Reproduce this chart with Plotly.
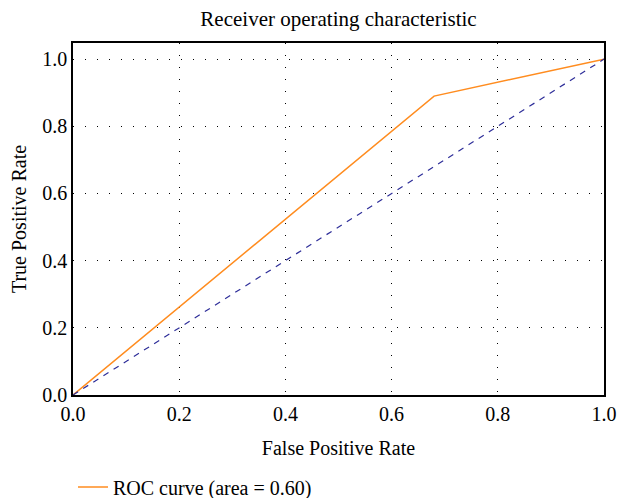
import plotly.graph_objects as go

fpr = [0.0, 0.68, 1.0]
tpr = [0.0, 0.89, 1.0]
diag_x = [0.0, 1.0]
diag_y = [0.0, 1.0]
ticks = [0.0, 0.2, 0.4, 0.6, 0.8, 1.0]
tick_labels = ["0.0", "0.2", "0.4", "0.6", "0.8", "1.0"]

font = "Liberation Serif, Times New Roman, serif"
fs = 20

fig = go.Figure()
fig.add_trace(go.Scatter(x=fpr, y=tpr, mode="lines", name="ROC curve (area = 0.60)",
                         line=dict(color="#ff8c1f", width=1.5)))
fig.add_trace(go.Scatter(x=diag_x, y=diag_y, mode="lines", showlegend=False,
                         line=dict(color="#2e2e99", width=1.2, dash="6px,6px")))

axis_common = dict(
    showline=True, linecolor="black", linewidth=1.5, mirror=True,
    showgrid=True, gridcolor="black", gridwidth=1, griddash="1px,11px",
    zeroline=False, ticks="", tickvals=ticks, ticktext=tick_labels,
    tickfont=dict(family=font, size=fs, color="black"), automargin=False,
)

fig.update_layout(
    width=617, height=498,
    margin=dict(l=73, r=13, t=43, b=103),
    paper_bgcolor="white", plot_bgcolor="white",
    title=dict(text="Receiver operating characteristic", x=0.5, xanchor="center",
               xref="paper", y=0.963, yanchor="middle",
               font=dict(family=font, size=21, color="black")),
    xaxis=dict(range=[0, 1], title=dict(text="False Positive Rate", standoff=17,
               font=dict(family=font, size=fs, color="black")), **axis_common),
    yaxis=dict(range=[0, 1.048], title=dict(text="True Positive Rate", standoff=10,
               font=dict(family=font, size=fs, color="black")), **axis_common),
    legend=dict(orientation="h", x=0.0, xanchor="left", yref="container",
                y=0.022, yanchor="middle",
                font=dict(family=font, size=fs, color="black"), bgcolor="rgba(0,0,0,0)"),
)

fig.write_html("out.html", config={"displayModeBar": False},
               post_script="document.body.style.margin='0';document.body.style.overflow='hidden';")
